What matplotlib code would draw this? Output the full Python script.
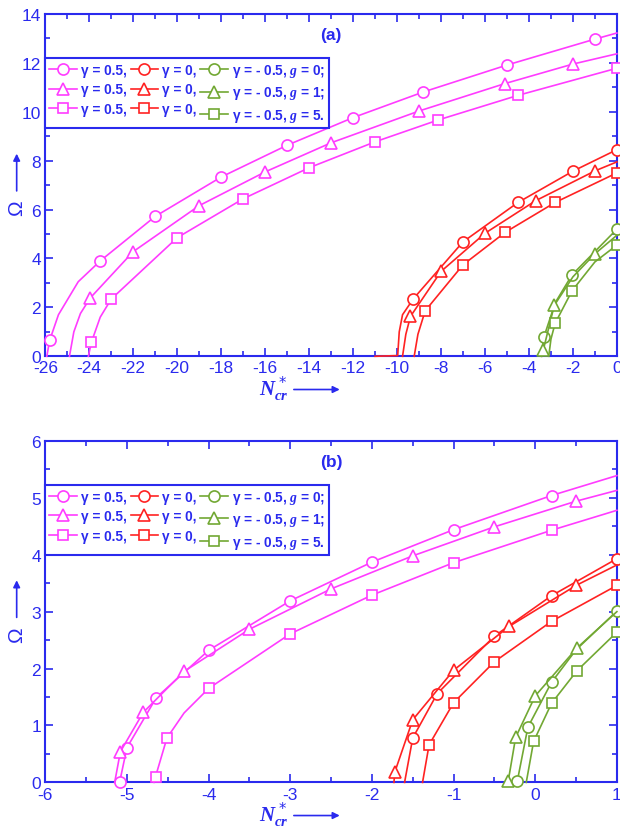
import numpy as np
import matplotlib
matplotlib.use("Agg")
import matplotlib.pyplot as plt
from matplotlib.ticker import MultipleLocator

plt.rcParams['font.family'] = ['Liberation Sans', 'DejaVu Sans']
plt.rcParams['axes.unicode_minus'] = False
plt.rcParams['mathtext.fontset'] = 'custom'
plt.rcParams['mathtext.bfit'] = 'Liberation Serif:italic:bold'
plt.rcParams['mathtext.it'] = 'Liberation Serif:italic'

BLUE = '#2a2aee'
MAG = '#ff3cff'
RED = '#ff2222'
GRN = '#72a833'

# ---- panel (a) data: (x, y, marker indices) ----
a_mag_o_x = [-25.93, -25.8, -25.4, -24.5, -23.5, -21, -18, -15, -12, -8.8, -5, -1, 0]
a_mag_o_y = [0, 0.65, 1.7, 3.05, 3.9, 5.72, 7.33, 8.63, 9.76, 10.81, 11.91, 12.97, 13.22]
a_mag_o_m = [1, 4, 5, 6, 7, 8, 9, 10, 11]
a_mag_t_x = [-24.9, -24.7, -24.4, -23.96, -22.0, -19, -16, -13, -9, -5.1, -2.0, 0]
a_mag_t_y = [0, 1.0, 1.75, 2.38, 4.28, 6.16, 7.54, 8.73, 10.03, 11.15, 11.95, 12.37]
a_mag_t_m = [3, 4, 5, 6, 7, 8, 9, 10]
a_mag_s_x = [-24.04, -23.9, -23.5, -23.0, -20, -17, -14, -11, -8.14, -4.5, 0]
a_mag_s_y = [0, 0.58, 1.6, 2.34, 4.85, 6.44, 7.71, 8.77, 9.66, 10.67, 11.78]
a_mag_s_m = [1, 3, 4, 5, 6, 7, 8, 9, 10]

a_red_o_x = [-11, -9.97, -9.9, -9.75, -9.26, -7.0, -4.5, -2.0, 0]
a_red_o_y = [0, 0.03, 1.0, 1.7, 2.35, 4.68, 6.29, 7.57, 8.45]
a_red_o_m = [4, 5, 6, 7, 8]
a_red_t_x = [-9.75, -9.6, -9.39, -8.0, -6.0, -3.7, -1.0, 0]
a_red_t_y = [0, 0.9, 1.63, 3.47, 5.03, 6.36, 7.58, 7.95]
a_red_t_m = [2, 3, 4, 5, 6]
a_red_s_x = [-9.22, -9.05, -8.72, -7.0, -5.08, -2.81, 0]
a_red_s_y = [0, 0.9, 1.86, 3.74, 5.07, 6.29, 7.5]
a_red_s_m = [2, 3, 4, 5, 6]

a_grn_o_x = [-3.45, -3.32, -2.8, -2.04, 0]
a_grn_o_y = [0, 0.79, 2.2, 3.33, 5.2]
a_grn_o_m = [1, 3, 4]
a_grn_t_x = [-3.42, -3.35, -2.85, -2.0, -1.0, 0]
a_grn_t_y = [0, 0.25, 2.08, 3.25, 4.19, 4.95]
a_grn_t_m = [1, 2, 4]
a_grn_s_x = [-3.1, -3.0, -2.81, -2.04, -1.0, 0]
a_grn_s_y = [0, 0.7, 1.35, 2.68, 3.86, 4.55]
a_grn_s_m = [2, 3, 5]

# ---- panel (b) data ----
b_mag_o_x = [-5.09, -5.0, -4.64, -4.0, -3, -2, -1, 0.2, 1]
b_mag_o_y = [0, 0.61, 1.49, 2.32, 3.19, 3.87, 4.44, 5.04, 5.39]
b_mag_o_m = [0, 1, 2, 3, 4, 5, 6, 7]
b_mag_t_x = [-5.15, -5.08, -4.8, -4.3, -3.5, -2.5, -1.5, -0.5, 0.5, 1]
b_mag_t_y = [0, 0.54, 1.23, 1.95, 2.69, 3.40, 3.98, 4.49, 4.94, 5.13]
b_mag_t_m = [1, 2, 3, 4, 5, 6, 7, 8]
b_mag_s_x = [-4.67, -4.65, -4.51, -4.3, -4.0, -3, -2, -1, 0.2, 1]
b_mag_s_y = [0, 0.10, 0.78, 1.22, 1.65, 2.61, 3.29, 3.86, 4.43, 4.78]
b_mag_s_m = [1, 2, 4, 5, 6, 7, 8]

b_red_o_x = [-1.6, -1.5, -1.2, -0.5, 0.2, 1]
b_red_o_y = [0, 0.78, 1.56, 2.57, 3.28, 3.93]
b_red_o_m = [1, 2, 3, 4, 5]
b_red_t_x = [-1.73, -1.72, -1.5, -1.0, -0.32, 0.5, 1]
b_red_t_y = [0, 0.18, 1.10, 1.97, 2.74, 3.46, 3.82]
b_red_t_m = [1, 2, 3, 4, 5]
b_red_s_x = [-1.38, -1.3, -1.0, -0.5, 0.2, 1]
b_red_s_y = [0, 0.66, 1.40, 2.12, 2.83, 3.46]
b_red_s_m = [1, 2, 3, 4, 5]

b_grn_o_x = [-0.22, -0.09, 0.2, 0.5, 1]
b_grn_o_y = [0.02, 0.97, 1.76, 2.33, 3.01]
b_grn_o_m = [0, 1, 2, 4]
b_grn_t_x = [-0.35, -0.33, -0.24, 0.0, 0.51, 1]
b_grn_t_y = [0, 0.03, 0.79, 1.52, 2.36, 3.0]
b_grn_t_m = [1, 2, 3, 4]
b_grn_s_x = [-0.11, -0.02, 0.2, 0.51, 1]
b_grn_s_y = [0, 0.72, 1.39, 1.96, 2.64]
b_grn_s_m = [1, 2, 3, 4]

labels = ['\u03b3 = 0.5,', '\u03b3 = 0.5,', '\u03b3 = 0.5,',
          '\u03b3 = 0,', '\u03b3 = 0,', '\u03b3 = 0,',
          '\u03b3 = - 0.5, $\\mathbfit{g}$ = 0;',
          '\u03b3 = - 0.5, $\\mathbfit{g}$ = 1;',
          '\u03b3 = - 0.5, $\\mathbfit{g}$ = 5.']

panel_a = [
    (a_mag_o_x, a_mag_o_y, a_mag_o_m, MAG, 'o'), (a_mag_t_x, a_mag_t_y, a_mag_t_m, MAG, '^'),
    (a_mag_s_x, a_mag_s_y, a_mag_s_m, MAG, 's'),
    (a_red_o_x, a_red_o_y, a_red_o_m, RED, 'o'), (a_red_t_x, a_red_t_y, a_red_t_m, RED, '^'),
    (a_red_s_x, a_red_s_y, a_red_s_m, RED, 's'),
    (a_grn_o_x, a_grn_o_y, a_grn_o_m, GRN, 'o'), (a_grn_t_x, a_grn_t_y, a_grn_t_m, GRN, '^'),
    (a_grn_s_x, a_grn_s_y, a_grn_s_m, GRN, 's'),
]
panel_b = [
    (b_mag_o_x, b_mag_o_y, b_mag_o_m, MAG, 'o'), (b_mag_t_x, b_mag_t_y, b_mag_t_m, MAG, '^'),
    (b_mag_s_x, b_mag_s_y, b_mag_s_m, MAG, 's'),
    (b_red_o_x, b_red_o_y, b_red_o_m, RED, 'o'), (b_red_t_x, b_red_t_y, b_red_t_m, RED, '^'),
    (b_red_s_x, b_red_s_y, b_red_s_m, RED, 's'),
    (b_grn_o_x, b_grn_o_y, b_grn_o_m, GRN, 'o'), (b_grn_t_x, b_grn_t_y, b_grn_t_m, GRN, '^'),
    (b_grn_s_x, b_grn_s_y, b_grn_s_m, GRN, 's'),
]


def draw_panel(ax, series, xlim, ylim, xstep, ystep, tag):
    for (x, y, m, c, mk), lab in zip(series, labels):
        ax.plot(x, y, color=c, lw=1.2, marker=mk, markevery=m, ms=8 if mk != 's' else 7,
                mfc='white', mec=c, mew=1.2, label=lab, clip_on=False, zorder=3)
    ax.set_xlim(*xlim)
    ax.set_ylim(*ylim)
    ax.xaxis.set_major_locator(MultipleLocator(xstep))
    ax.xaxis.set_minor_locator(MultipleLocator(xstep / 2))
    ax.yaxis.set_major_locator(MultipleLocator(ystep))
    ax.yaxis.set_minor_locator(MultipleLocator(ystep / 2))
    for s in ax.spines.values():
        s.set_color(BLUE)
        s.set_linewidth(1.5)
    ax.tick_params(which='both', direction='in', top=True, right=True, color=BLUE, width=1.2)
    ax.tick_params(which='major', length=6, labelsize=12.5, labelcolor=BLUE, pad=3)
    ax.tick_params(which='minor', length=3.5)
    ax.text(0.5, 0.94, tag, transform=ax.transAxes, ha='center', va='center',
            color=BLUE, fontsize=12.5, fontweight='bold')
    leg = ax.legend(loc='upper left', bbox_to_anchor=(0, 0.872), borderaxespad=0, ncol=3,
                    prop={'weight': 'bold', 'size': 9.8}, handlelength=2.0,
                    handletextpad=0.3, columnspacing=0.3, labelspacing=0.4, borderpad=0.3,
                    fancybox=False, framealpha=1, edgecolor=BLUE)
    leg.get_frame().set_linewidth(1.5)
    for t in leg.get_texts():
        t.set_color(BLUE)
    # axis labels with arrows
    ax.text(-0.05, 0.435, '\u03a9', transform=ax.transAxes, rotation=90, ha='center',
            va='center', color=BLUE, fontsize=15)
    ax.annotate('', xy=(-0.05, 0.6), xytext=(-0.05, 0.475), xycoords='axes fraction',
                arrowprops=dict(arrowstyle='-|>', color=BLUE, lw=1.2, mutation_scale=10))
    ax.text(0.4, -0.092, r'$\mathbfit{N}_{\mathbfit{cr}}^{\,*}$', transform=ax.transAxes,
            ha='center', va='center', color=BLUE, fontsize=15)
    ax.annotate('', xy=(0.52, -0.097), xytext=(0.43, -0.097), xycoords='axes fraction',
                arrowprops=dict(arrowstyle='-|>', color=BLUE, lw=1.2, mutation_scale=10))


fig = plt.figure(figsize=(6.2, 8.29), dpi=100)
ax1 = fig.add_axes([0.073, 0.569, 0.922, 0.413])
ax2 = fig.add_axes([0.073, 0.055, 0.922, 0.412])

draw_panel(ax1, panel_a, (-26, 0), (0, 14), 2, 2, '(a)')
draw_panel(ax2, panel_b, (-6, 1), (0, 6), 1, 1, '(b)')

fig.savefig('out.png', dpi=100)
